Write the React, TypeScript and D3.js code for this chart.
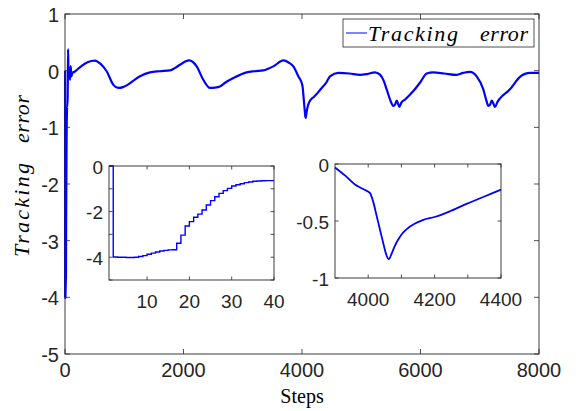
import React from "react";
import * as d3 from "d3";

// ---------- data ----------
// Inset 1: first 40 steps (stairs)
const inset1Steps = [1,2,3,4,5,6,7,8,9,10,11,12,13,14,15,16,17,18,19,20,21,22,23,24,25,26,27,28,29,30,31,32,33,34,35,36,37,38,39,40];
const inset1Values = [0,-3.99,-4.0,-4.0,-4.01,-4.01,-4.0,-3.97,-3.93,-3.87,-3.82,-3.77,-3.73,-3.7,-3.68,-3.67,-3.39,-3.03,-2.63,-2.44,-2.25,-2.11,-1.93,-1.71,-1.52,-1.35,-1.2,-1.08,-0.98,-0.88,-0.82,-0.78,-0.73,-0.7,-0.67,-0.66,-0.65,-0.64,-0.64,-0.64];

// Main series after step 40
const mainSteps = [45,52,58,64,70,78,86,96,108,125,160,250,380,506,600,703,816,900,980,1041,1150,1266,1435,1600,1772,1860,1941,2093,2160,2222,2334,2447,2530,2616,2720,2841,3066,3200,3347,3430,3516,3685,3780,3854,3938,4005,4015,4025,4035,4045,4055,4062,4070,4080,4090,4100,4111,4125,4136,4150,4166,4200,4250,4300,4350,4400,4473,4614,4800,4979,5100,5232,5316,5380,5429,5490,5541,5570,5598,5620,5643,5680,5738,5879,6000,6104,6217,6400,6610,6720,6835,6948,7060,7110,7145,7175,7201,7230,7257,7300,7342,7510,7679,7848,8000];
const mainValues = [-0.45,0.38,0.0,-0.1,0.06,-0.02,-0.16,0.08,-0.1,-0.04,-0.02,0.06,0.15,0.178,0.12,-0.01,-0.25,-0.305,-0.29,-0.26,-0.18,-0.1,-0.03,-0.01,0.005,0.05,0.105,0.18,0.15,0.076,-0.16,-0.305,-0.3,-0.28,-0.2,-0.13,-0.03,-0.01,0.005,0.035,0.076,0.18,0.14,0.076,-0.1,-0.254,-0.33,-0.45,-0.57,-0.69,-0.8,-0.835,-0.79,-0.72,-0.665,-0.62,-0.585,-0.55,-0.53,-0.51,-0.49,-0.465,-0.41,-0.345,-0.285,-0.225,-0.1,-0.04,-0.05,-0.075,-0.06,-0.03,-0.07,-0.18,-0.33,-0.52,-0.62,-0.6,-0.53,-0.58,-0.64,-0.56,-0.51,-0.36,-0.2,-0.05,-0.03,-0.05,-0.075,-0.04,-0.02,-0.1,-0.33,-0.52,-0.62,-0.6,-0.53,-0.58,-0.64,-0.55,-0.49,-0.33,-0.11,-0.04,-0.04];

// Inset 2: zoom on 3900..4400
const inset2Steps = [3900,3930,3960,3985,4005,4015,4025,4035,4045,4055,4062,4070,4080,4090,4100,4111,4125,4136,4150,4166,4200,4250,4300,4350,4400];
const inset2Values = [-0.03,-0.1,-0.18,-0.22,-0.254,-0.33,-0.45,-0.57,-0.69,-0.8,-0.835,-0.79,-0.72,-0.665,-0.62,-0.585,-0.55,-0.53,-0.51,-0.49,-0.465,-0.41,-0.345,-0.285,-0.225];

const mainXTicks = [0, 2000, 4000, 6000, 8000];
const mainYTicks = [1, 0, -1, -2, -3, -4, -5];
const inset1XTicks = [10, 20, 30, 40];
const inset1YTicks = [0, -1, -2, -3, -4, -5];
const inset1YLabels = [0, -2, -4];
const inset2XTicks = [4000, 4100, 4200, 4300, 4400];
const inset2XLabels = [4000, 4200, 4400];
const inset2YTicks = [0, -0.5, -1];

const seriesName = ["Tracking", "error"];
const xLabel = "Steps";

const AX = "#262626";
const BLUE = "#0000ff";
const SANS = "'Liberation Sans', Arial, Helvetica, sans-serif";
const SERIF = "'Liberation Serif', 'Times New Roman', serif";

type Box = { l: number; r: number; t: number; b: number };

function Axes(props: {
  box: Box;
  x: d3.ScaleLinear<number, number>;
  y: d3.ScaleLinear<number, number>;
  xTicks: number[];
  xLabels: number[];
  yTicks: number[];
  yLabels: number[];
  tickLen: number;
  fontSize: number;
  xLabelDy: number;
}) {
  const { box, x, y, xTicks, xLabels, yTicks, yLabels, tickLen, fontSize, xLabelDy } = props;
  return (
    <g>
      {xTicks.map((t) => (
        <g key={"xt" + t}>
          <line x1={x(t)} x2={x(t)} y1={box.b} y2={box.b - tickLen} stroke={AX} strokeWidth={0.8} />
          <line x1={x(t)} x2={x(t)} y1={box.t} y2={box.t + tickLen} stroke={AX} strokeWidth={0.8} />
        </g>
      ))}
      {yTicks.map((t) => (
        <g key={"yt" + t}>
          <line x1={box.l} x2={box.l + tickLen} y1={y(t)} y2={y(t)} stroke={AX} strokeWidth={0.8} />
          <line x1={box.r} x2={box.r - tickLen} y1={y(t)} y2={y(t)} stroke={AX} strokeWidth={0.8} />
        </g>
      ))}
      <rect x={box.l} y={box.t} width={box.r - box.l} height={box.b - box.t} fill="none" stroke={AX} strokeWidth={0.9} />
      {xLabels.map((t) => (
        <text key={"xl" + t} x={x(t)} y={box.b + xLabelDy} textAnchor="middle" fontFamily={SANS} fontSize={fontSize} fill={AX}>
          {String(t)}
        </text>
      ))}
      {yLabels.map((t) => (
        <text key={"yl" + t} x={box.l - 6} y={y(t) + fontSize * 0.4} textAnchor="end" fontFamily={SANS} fontSize={fontSize} fill={AX}>
          {String(t)}
        </text>
      ))}
    </g>
  );
}

export default function App() {
  const W = 578, H = 411;

  // main axes
  const mb: Box = { l: 65, r: 539, t: 14, b: 354 };
  const mx = d3.scaleLinear().domain([0, 8000]).range([mb.l, mb.r]);
  const my = d3.scaleLinear().domain([-5, 1]).range([mb.b, mb.t]);
  const allSteps = inset1Steps.concat(mainSteps);
  const allValues = inset1Values.concat(mainValues);
  const mainPts: [number, number][] = allSteps.map((s, i) => [s, allValues[i]]);
  const mainLine = d3
    .line<[number, number]>()
    .x((d) => mx(d[0]))
    .y((d) => my(d[1]))
    .curve(d3.curveMonotoneX)(mainPts) as string;

  // inset 1
  const b1: Box = { l: 109, r: 274, t: 166, b: 280 };
  const x1 = d3.scaleLinear().domain([1, 40]).range([b1.l, b1.r]);
  const y1 = d3.scaleLinear().domain([-5, 0]).range([b1.b, b1.t]);
  const pts1: [number, number][] = inset1Steps.map((s, i) => [s, inset1Values[i]]);
  const line1 = d3
    .line<[number, number]>()
    .x((d) => x1(d[0]))
    .y((d) => y1(d[1]))
    .curve(d3.curveStepAfter)(pts1) as string;

  // inset 2
  const b2: Box = { l: 335, r: 501, t: 164, b: 278 };
  const x2 = d3.scaleLinear().domain([3900, 4400]).range([b2.l, b2.r]);
  const y2 = d3.scaleLinear().domain([-1, 0]).range([b2.b, b2.t]);
  const pts2: [number, number][] = inset2Steps.map((s, i) => [s, inset2Values[i]]);
  const line2 = d3
    .line<[number, number]>()
    .x((d) => x2(d[0]))
    .y((d) => y2(d[1]))
    .curve(d3.curveMonotoneX)(pts2) as string;

  const legend = { l: 343, r: 534, t: 19, b: 47 };

  return (
    <svg width={W} height={H} style={{ position: "absolute", left: 0, top: 0, background: "#fff" }}>
      <rect x={0} y={0} width={W} height={H} fill="#fff" />
      {/* main */}
      <rect x={mb.l} y={mb.t} width={mb.r - mb.l} height={mb.b - mb.t} fill="#fff" />
      <path d={mainLine} fill="none" stroke={BLUE} strokeWidth={2.2} strokeLinejoin="round" />
      <Axes box={mb} x={mx} y={my} xTicks={mainXTicks} xLabels={mainXTicks} yTicks={mainYTicks} yLabels={mainYTicks} tickLen={5} fontSize={20} xLabelDy={23} />

      {/* inset 1 */}
      <rect x={b1.l} y={b1.t} width={b1.r - b1.l} height={b1.b - b1.t} fill="#fff" />
      <path d={line1} fill="none" stroke={BLUE} strokeWidth={1.4} />
      <Axes box={b1} x={x1} y={y1} xTicks={inset1XTicks} xLabels={inset1XTicks} yTicks={inset1YTicks} yLabels={inset1YLabels} tickLen={3.5} fontSize={19} xLabelDy={28} />

      {/* inset 2 */}
      <rect x={b2.l} y={b2.t} width={b2.r - b2.l} height={b2.b - b2.t} fill="#fff" />
      <path d={line2} fill="none" stroke={BLUE} strokeWidth={1.8} strokeLinejoin="round" />
      <Axes box={b2} x={x2} y={y2} xTicks={inset2XTicks} xLabels={inset2XLabels} yTicks={inset2YTicks} yLabels={inset2YTicks} tickLen={3.5} fontSize={19} xLabelDy={28} />

      {/* legend */}
      <rect x={legend.l} y={legend.t} width={legend.r - legend.l} height={legend.b - legend.t} fill="#fff" stroke={AX} strokeWidth={0.8} />
      <line x1={346} x2={367} y1={33} y2={33} stroke={BLUE} strokeWidth={1} />
      <text x={368} y={41} fontFamily={SERIF} fontStyle="italic" fontSize={22} fill="#000" textLength={90} lengthAdjust="spacing">
        {seriesName[0]}
      </text>
      <text x={480} y={41} fontFamily={SERIF} fontStyle="italic" fontSize={22} fill="#000" textLength={48} lengthAdjust="spacing">
        {seriesName[1]}
      </text>

      {/* y label */}
      <g transform="translate(29,0) rotate(-90)">
        <text x={-257} y={0} fontFamily={SERIF} fontStyle="italic" fontSize={22} fill="#000" textLength={94} lengthAdjust="spacing">
          {seriesName[0]}
        </text>
        <text x={-143} y={0} fontFamily={SERIF} fontStyle="italic" fontSize={22} fill="#000" textLength={48} lengthAdjust="spacing">
          {seriesName[1]}
        </text>
      </g>

      {/* x label */}
      <text x={302} y={403} textAnchor="middle" fontFamily={SERIF} fontSize={20} fill="#000">
        {xLabel}
      </text>
    </svg>
  );
}
